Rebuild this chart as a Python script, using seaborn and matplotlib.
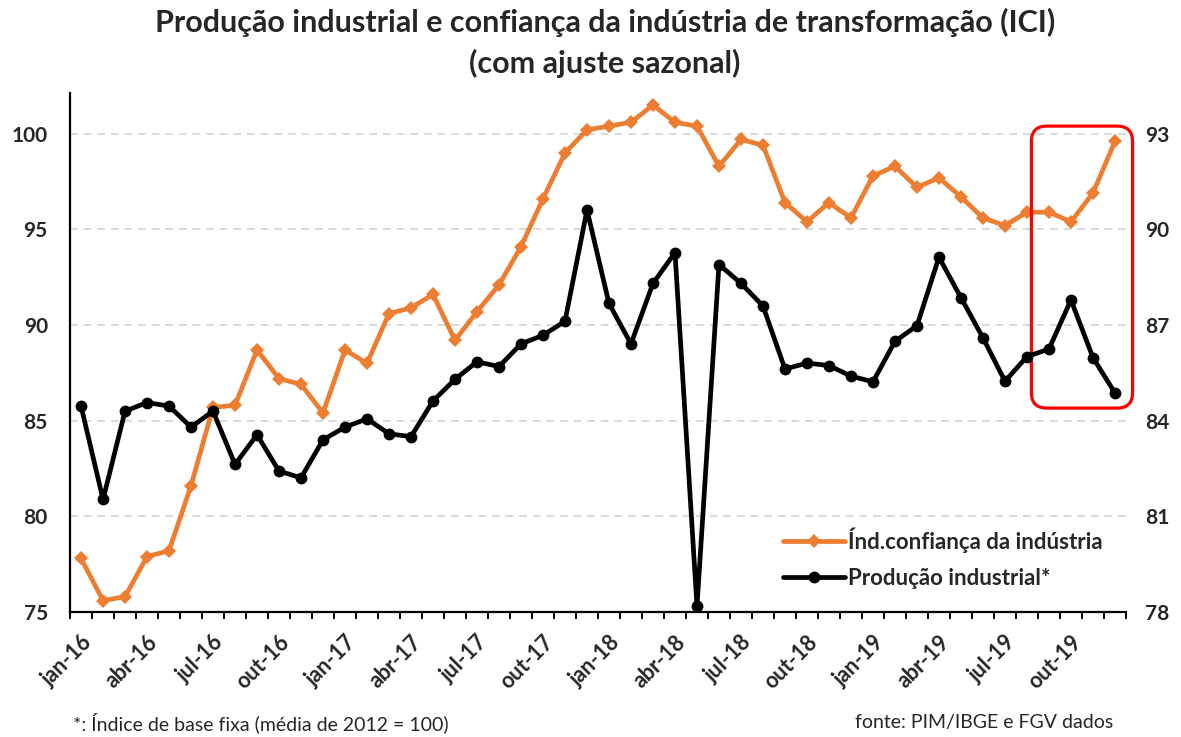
import matplotlib
matplotlib.use("Agg")
import matplotlib.pyplot as plt
from matplotlib.patches import FancyBboxPatch
from matplotlib.ticker import FixedLocator
import pandas as pd
import seaborn as sns

# ------------------------------------------------------------------
# Dados
# ------------------------------------------------------------------
meses_abrev = ["jan", "fev", "mar", "abr", "mai", "jun",
               "jul", "ago", "set", "out", "nov", "dez"]
anos = ["16", "17", "18", "19"]
periodos = [f"{m}-{a}" for a in anos for m in meses_abrev]

ici = [77.8, 75.6, 75.8, 77.9, 78.2, 81.6, 85.7, 85.8, 88.7, 87.2, 86.9, 85.4,
       88.7, 88.0, 90.6, 90.9, 91.6, 89.2, 90.7, 92.1, 94.1, 96.6, 99.0, 100.2,
       100.4, 100.6, 101.5, 100.6, 100.4, 98.3, 99.7, 99.4, 96.4, 95.4, 96.4, 95.6,
       97.8, 98.3, 97.2, 97.7, 96.7, 95.6, 95.2, 95.9, 95.9, 95.4, 96.9, 99.6]

producao = [84.46, 81.53, 84.30, 84.57, 84.46, 83.80, 84.30, 82.63, 83.56, 82.42, 82.21, 83.40,
            83.80, 84.06, 83.59, 83.50, 84.62, 85.30, 85.85, 85.70, 86.41, 86.68, 87.12, 90.61,
            87.68, 86.41, 88.31, 89.27, 78.18, 88.90, 88.31, 87.60, 85.62, 85.81, 85.73, 85.40,
            85.22, 86.49, 86.98, 89.13, 87.86, 86.60, 85.24, 86.01, 86.25, 87.79, 85.98, 84.87]

ticks_esq = [75, 80, 85, 90, 95, 100]
ticks_dir = [78, 81, 84, 87, 90, 93]

df = pd.DataFrame({"idx": range(len(periodos)), "periodo": periodos,
                   "ici": ici, "producao": producao})

sns.set_theme(style="white")
plt.rcParams["font.family"] = ["Lato", "DejaVu Sans"]

LARANJA = "#ED7D31"

fig = plt.figure(figsize=(11.81, 7.37), dpi=100)
ax = fig.add_axes([0.0593, 0.1696, 0.8941, 0.7042])
ax2 = ax.twinx()

sns.lineplot(data=df, x="idx", y="ici", ax=ax, color=LARANJA, linewidth=3.4,
             marker="D", markersize=7, markeredgewidth=0,
             label="Índ.confiança da indústria", legend=False)
sns.lineplot(data=df, x="idx", y="producao", ax=ax2, color="black", linewidth=3.4,
             marker="o", markersize=8.5, markeredgewidth=0,
             label="Produção industrial*", legend=False)

n = len(periodos)
ax.set_xlim(-0.5, n - 0.5)
ax.set_ylim(75, 102.13)
ax2.set_ylim(78, 94.28)

ax.set_yticks(ticks_esq)
ax2.set_yticks(ticks_dir)
ax.set_yticklabels([str(t) for t in ticks_esq], fontsize=15, fontweight="bold")
ax2.set_yticklabels([str(t) for t in ticks_dir], fontsize=15, fontweight="bold")
ax.tick_params(axis="y", length=0, pad=16)
ax2.tick_params(axis="y", length=0, pad=14)

# grade horizontal tracejada
for t in ticks_esq[1:]:
    ax.axhline(t, color="#D9D9D9", linestyle=(0, (4, 3)), linewidth=1.4, zorder=0)

# eixo x: rotulos a cada 3 meses, marcas em cada mes
pos_rot = list(range(0, n, 3))
ax.set_xticks(pos_rot)
ax.set_xticklabels([periodos[i] for i in pos_rot], rotation=45, ha="right",
                   rotation_mode="anchor", fontsize=15.5, fontweight="bold")
ax.xaxis.set_minor_locator(FixedLocator([i - 0.5 for i in range(n + 1)]))
ax.tick_params(axis="x", which="major", length=0, pad=14)
ax.tick_params(axis="x", which="minor", bottom=True, length=5, width=1.4,
               color="black", direction="out")
ax.set_xlabel("")
ax.set_ylabel("")
ax2.set_ylabel("")

for a in (ax, ax2):
    a.spines["top"].set_visible(False)
    a.spines["right"].set_visible(False)
ax2.spines["left"].set_visible(False)
ax2.spines["bottom"].set_visible(False)
ax.spines["left"].set_color("black")
ax.spines["left"].set_linewidth(1.6)
ax.spines["bottom"].set_color("black")
ax.spines["bottom"].set_linewidth(1.6)

# destaque vermelho nos ultimos meses
caixa = FancyBboxPatch((43.2, 85.66), 47.8 - 43.2, 100.4 - 85.66,
                       boxstyle="round,pad=0,rounding_size=0.7",
                       mutation_aspect=1.15, transform=ax.transData,
                       facecolor="none", edgecolor="#FF0000", linewidth=2.3,
                       clip_on=False, zorder=5)
ax.add_patch(caixa)

# legenda
h1, l1 = ax.get_legend_handles_labels()
h2, l2 = ax2.get_legend_handles_labels()
leg = ax2.legend(h1 + h2, l1 + l2, loc="upper left", bbox_to_anchor=(0.656, 0.202),
                 frameon=False, handlelength=2.8, handletextpad=0.15,
                 labelspacing=0.7, prop={"size": 16, "weight": "bold"})

fig.text(0.512, 0.97, "Produção industrial e confiança da indústria de transformação (ICI)",
         ha="center", va="center", fontsize=22, fontweight="bold")
fig.text(0.512, 0.914, "(com ajuste sazonal)", ha="center", va="center",
         fontsize=22, fontweight="bold")
fig.text(0.062, 0.02, "*: Índice de base fixa (média de 2012 = 100)",
         ha="left", va="center", fontsize=14)
fig.text(0.943, 0.02, "fonte: PIM/IBGE e FGV dados", ha="right", va="center",
         fontsize=14)

fig.savefig("out.png", dpi=100)
